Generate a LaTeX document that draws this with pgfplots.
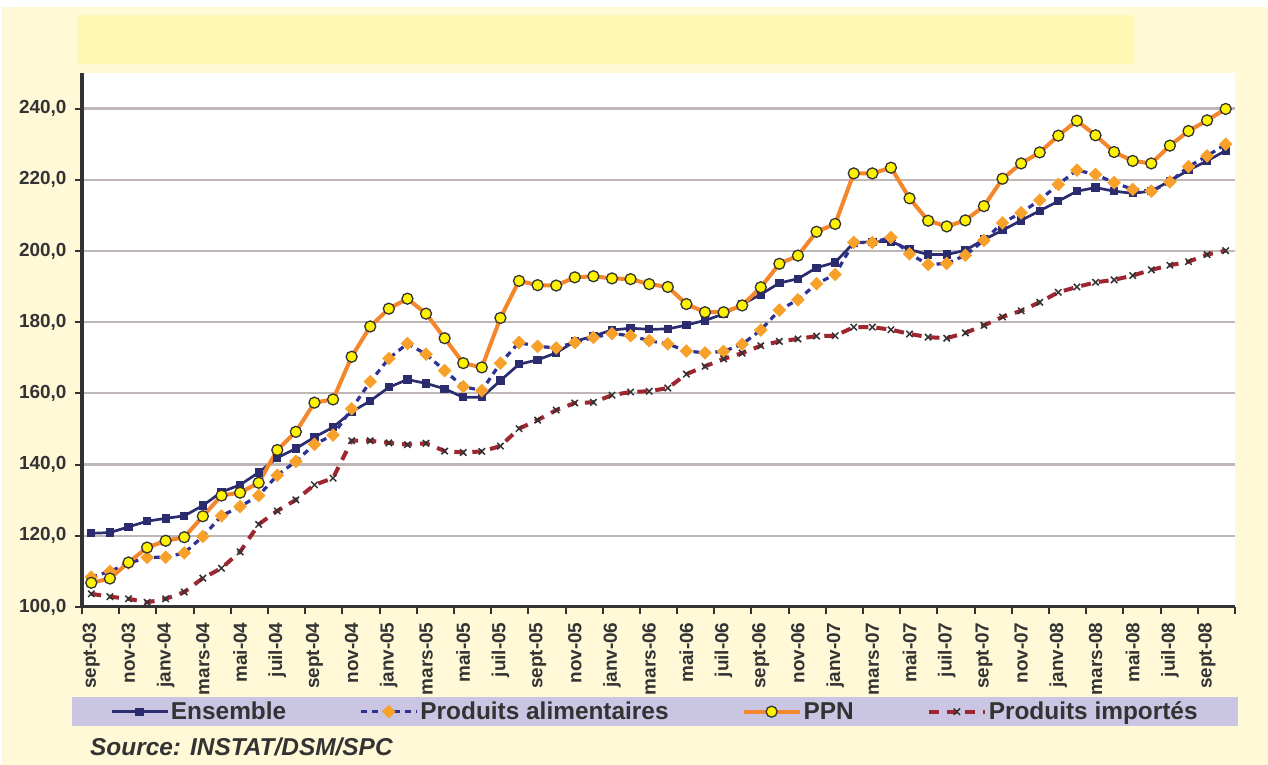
\documentclass[border=0pt]{standalone}
\usepackage{pgfplots}
\pgfplotsset{compat=1.18}
\usepackage{pgfplotstable}
\usepackage{fontspec}
\setmainfont{Liberation Sans}
\definecolor{cream}{HTML}{FFF9D7}
\definecolor{titlebox}{HTML}{FFF7B3}
\definecolor{lav}{HTML}{C9C5E2}
\definecolor{txt}{HTML}{333333}
\definecolor{gridc}{HTML}{BFB6B6}
\definecolor{navy}{HTML}{2B2C6E}
\definecolor{blued}{HTML}{2E3192}
\definecolor{orangeA}{HTML}{F7A12A}
\definecolor{orangeP}{HTML}{F4872C}
\definecolor{yel}{HTML}{FFF200}
\definecolor{redI}{HTML}{9E2630}

\pgfplotstableread{
i E A P M
0 120.7 108.4 106.8 103.7
1 120.9 110.0 108.0 102.9
2 122.5 112.3 112.5 102.3
3 124.1 113.9 116.7 101.3
4 124.9 114.0 118.6 102.3
5 125.6 115.2 119.6 104.2
6 128.5 119.8 125.5 108.1
7 132.3 125.6 131.3 110.9
8 134.3 128.2 132.1 115.5
9 137.8 131.3 134.9 123.2
10 141.9 137.0 144.1 127.0
11 144.5 140.9 149.2 130.1
12 147.7 145.7 157.4 134.3
13 150.5 148.3 158.3 136.2
14 154.8 155.7 170.3 146.7
15 157.9 163.3 178.8 146.7
16 161.7 169.8 183.8 146.1
17 163.9 174.0 186.6 145.6
18 162.8 171.0 182.4 146.0
19 161.3 166.4 175.5 143.8
20 158.9 161.9 168.5 143.4
21 158.9 160.8 167.3 143.7
22 163.6 168.5 181.2 145.2
23 168.2 174.3 191.6 150.1
24 169.4 173.2 190.4 152.5
25 171.4 172.8 190.3 155.3
26 174.6 174.3 192.6 157.3
27 176.1 175.7 192.9 157.5
28 177.8 176.8 192.3 159.5
29 178.3 176.2 192.1 160.4
30 178.0 174.8 190.7 160.6
31 178.1 173.9 189.9 161.5
32 179.2 171.9 185.1 165.4
33 180.5 171.4 182.8 167.6
34 182.3 171.8 182.8 169.7
35 185.0 173.8 184.7 171.3
36 187.8 177.8 189.8 173.4
37 191.0 183.4 196.4 174.6
38 192.2 186.3 198.7 175.3
39 195.3 190.8 205.4 176.1
40 196.8 193.4 207.6 176.2
41 202.3 202.4 221.8 178.6
42 202.6 202.4 221.8 178.6
43 202.7 203.8 223.4 177.9
44 200.4 199.2 214.8 176.7
45 199.0 196.2 208.5 175.8
46 199.0 196.5 206.9 175.5
47 200.2 198.8 208.6 177.0
48 203.2 203.0 212.6 179.1
49 205.8 207.9 220.3 181.5
50 208.6 210.7 224.6 183.2
51 211.3 214.3 227.7 185.6
52 214.0 218.7 232.4 188.4
53 216.8 222.7 236.6 189.9
54 217.8 221.5 232.5 191.2
55 216.8 219.2 227.8 191.9
56 216.2 217.3 225.3 193.1
57 216.8 216.8 224.6 194.7
58 219.7 219.4 229.6 196.0
59 222.7 223.7 233.7 197.0
60 225.3 226.7 236.7 199.0
61 228.2 230.0 239.9 200.1
}\data

\begin{document}
\begin{tikzpicture}
\useasboundingbox (0,0) rectangle (1268bp,765bp);
\fill[white] (0,0) rectangle (1268bp,765bp);
\fill[cream] (2bp,0) rectangle (1268bp,758bp);
\fill[titlebox] (77bp,701bp) rectangle (1134bp,750bp);
\fill[lav] (72bp,39bp) rectangle (1238bp,68bp);
\node[anchor=base west, inner sep=0pt, text=txt, font=\bfseries\itshape\fontsize{24.5}{27}\selectfont] at (90bp,9.3bp) {Source: INSTAT/DSM/SPC};
\begin{axis}[
  at={(82bp,158bp)}, anchor=south west,
  scale only axis, width=1153bp, height=534bp,
  xmin=-0.5, xmax=61.5, ymin=100, ymax=250,
  axis lines*=left,
  axis line style={line width=3bp, color=txt},
  axis background/.style={fill=white},
  ytick={100,120,...,240},
  minor ytick={100,120,...,240},
  xtick={0,2,...,60},
  minor xtick={-0.5,1.5,...,61.5},
  xticklabels={sept-03,nov-03,janv-04,mars-04,mai-04,juil-04,sept-04,nov-04,janv-05,mars-05,mai-05,juil-05,sept-05,nov-05,janv-06,mars-06,mai-06,juil-06,sept-06,nov-06,janv-07,mars-07,mai-07,juil-07,sept-07,nov-07,janv-08,mars-08,mai-08,juil-08,sept-08},
  major tick length=0pt, minor tick length=7bp,
  tick align=outside,
  tick style={line width=2bp, color=txt},
  ymajorgrids, major grid style={line width=2.2bp, color=gridc},
  xticklabel shift=12bp, yticklabel shift=12bp,
  yticklabel style={font=\bfseries\fontsize{19}{20}\selectfont, text=txt, anchor=east,
    /pgf/number format/fixed, /pgf/number format/fixed zerofill,
    /pgf/number format/precision=1, /pgf/number format/use comma,
    /pgf/number format/assume math mode=true},
  xticklabel style={font=\bfseries\fontsize{19}{20}\selectfont, text=txt, rotate=90, anchor=east},
  legend columns=4,
  legend style={at={(0.0243,-0.196)}, anchor=west, draw=none, fill=none, inner sep=0pt,
    font=\bfseries\fontsize{24.5}{26}\selectfont, text=txt,
    /tikz/every even column/.append style={column sep=71bp}},
  legend image code/.code={\draw[mark repeat=2,mark phase=2,#1] plot coordinates {(0bp,0bp) (28bp,0bp) (56bp,0bp)};},
]
\addplot[navy, line width=2.7bp, mark=square*, mark size=2.8bp, mark options={fill=navy, draw=navy}] table[x=i, y=E] {\data};
\addlegendentry{Ensemble}
\addplot[blued, line width=3.2bp, dash pattern=on 6bp off 5bp, mark=square*, mark size=3.2bp, mark options={solid, rotate=45, fill=orangeA, draw=orangeA}] table[x=i, y=A] {\data};
\addlegendentry{Produits alimentaires}
\addplot[orangeP, line width=4bp, mark=*, mark size=5.5bp, mark options={solid, fill=yel, draw=txt, line width=1.3bp}] table[x=i, y=P] {\data};
\addlegendentry{PPN}
\addplot[redI, line width=4bp, dash pattern=on 10bp off 8bp, mark=x, mark size=4.5bp, mark options={solid, draw=txt, line width=1.5bp}] table[x=i, y=M] {\data};
\addlegendentry{Produits importés}
\end{axis}
\end{tikzpicture}
\end{document}
